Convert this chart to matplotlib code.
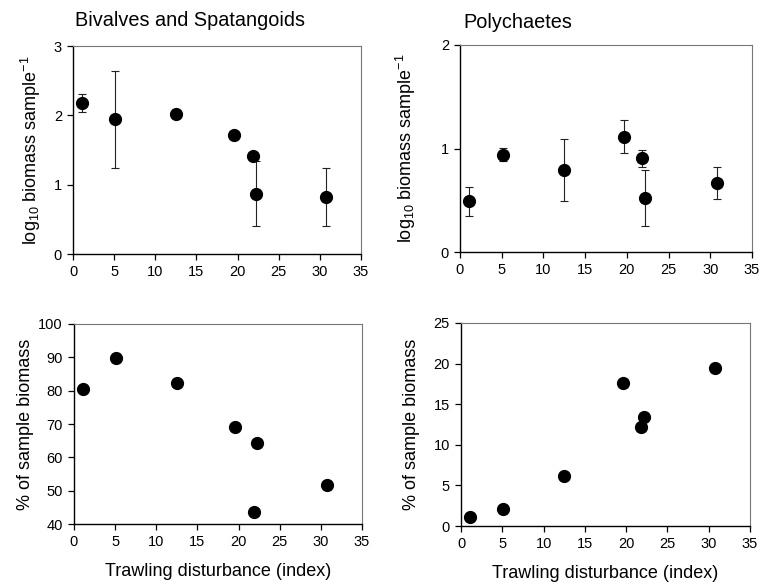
import matplotlib
matplotlib.use("Agg")
import matplotlib.pyplot as plt

plt.rcParams['font.family'] = ['Liberation Sans', 'DejaVu Sans']
plt.rcParams['mathtext.fontset'] = 'custom'
plt.rcParams['mathtext.rm'] = 'Liberation Sans'
plt.rcParams['mathtext.it'] = 'Liberation Sans'

# Trawling disturbance index (x) for the 7 sites
disturbance = [1.1, 5.1, 12.5, 19.6, 21.85, 22.2, 30.8]

# Bivalves and Spatangoids: log10 biomass per sample, +/- error
biv_log = [2.18, 1.94, 2.02, 1.72, 1.42, 0.87, 0.82]
biv_err = [0.13, 0.70, 0.0, 0.0, 0.0, 0.47, 0.42]
# Polychaetes: log10 biomass per sample, +/- error
poly_log = [0.49, 0.94, 0.79, 1.115, 0.905, 0.52, 0.665]
poly_err = [0.14, 0.065, 0.30, 0.16, 0.085, 0.27, 0.155]

# % of sample biomass
biv_pct = [80.4, 89.7, 82.3, 69.0, 43.7, 64.3, 51.7]
poly_pct = [1.15, 2.13, 6.2, 17.6, 12.2, 13.4, 19.5]

W, H = 770, 582
fig = plt.figure(figsize=(W / 100, H / 100), dpi=100)


def make_ax(l, r, t, b):
    return fig.add_axes([l / W, 1 - b / H, (r - l) / W, (b - t) / H])


def style(ax, ylim, yticks, xlabel=None):
    ax.set_xlim(0, 35)
    ax.set_xticks(range(0, 36, 5))
    ax.set_ylim(*ylim)
    ax.set_yticks(yticks)
    for s in ['left', 'bottom']:
        ax.spines[s].set_color('black')
        ax.spines[s].set_linewidth(1.0)
    for s in ['top', 'right']:
        ax.spines[s].set_color('#777777')
        ax.spines[s].set_linewidth(0.8)
    ax.tick_params(direction='out', length=4, width=0.9, labelsize=10.5,
                   top=False, right=False, pad=4)
    if xlabel:
        ax.set_xlabel(xlabel, fontsize=13, labelpad=10)


ax1 = make_ax(73, 361, 46, 254)
ax2 = make_ax(460, 752, 45, 252)
ax3 = make_ax(74, 362, 324, 524)
ax4 = make_ax(461, 750, 323, 526)

ms = 8.5
for ax, y, e in [(ax1, biv_log, biv_err), (ax2, poly_log, poly_err)]:
    ax.errorbar(disturbance, y, yerr=e, fmt='o', color='black',
                ecolor='#222222', elinewidth=0.8, capsize=3, capthick=0.8,
                markersize=ms, zorder=3)

ax3.plot(disturbance, biv_pct, 'o', color='black', markersize=ms)
ax4.plot(disturbance, poly_pct, 'o', color='black', markersize=ms)

style(ax1, (0, 3), [0, 1, 2, 3])
style(ax2, (0, 2), [0, 1, 2])
style(ax3, (40, 100), range(40, 101, 10), 'Trawling disturbance (index)')
style(ax4, (0, 25), range(0, 26, 5), 'Trawling disturbance (index)')

ax1.set_ylabel(r'log$_{10}$ biomass sample$^{-1}$', fontsize=13, labelpad=8)
ax2.set_ylabel(r'log$_{10}$ biomass sample$^{-1}$', fontsize=13, labelpad=16)
ax3.set_ylabel('% of sample biomass', fontsize=13, labelpad=3)
ax4.set_ylabel('% of sample biomass', fontsize=13, labelpad=10)

fig.text(75 / W, 1 - 20 / H, 'Bivalves and Spatangoids', fontsize=14.3,
         ha='left', va='center')
fig.text(463 / W, 1 - 22 / H, 'Polychaetes', fontsize=14.3,
         ha='left', va='center')

fig.savefig('out.png', dpi=100)
